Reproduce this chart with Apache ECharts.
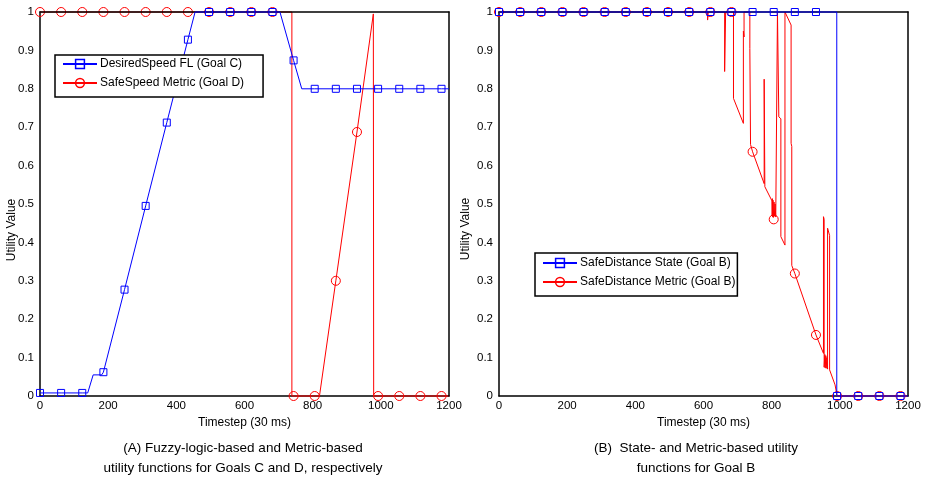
<!DOCTYPE html>
<html>
<head>
<meta charset="utf-8">
<script src="https://cdn.jsdelivr.net/npm/echarts@6/dist/echarts.min.js"></script>
<style>
  html, body { margin: 0; padding: 0; background: #fff; }
  #chart { width: 927px; height: 481px; }
</style>
</head>
<body>
<div id="chart"></div>
<script>
// Timesteps where markers are placed on every curve
const markerX = [0, 62, 124, 186, 248, 310, 372, 434, 496, 558, 620, 682, 744, 806, 868, 930, 992, 1054, 1116, 1178];

// (A) Goal C: fuzzy-logic DesiredSpeed utility
const desiredSpeedLine = [[0, 0.008], [140, 0.008], [156, 0.055], [181, 0.055], [455, 1], [704, 1], [768, 0.8], [1200, 0.8]];
const desiredSpeedMarks = [0.008, 0.008, 0.008, 0.062, 0.277, 0.495, 0.712, 0.928, 1, 1, 1, 1, 0.874, 0.8, 0.8, 0.8, 0.8, 0.8, 0.8, 0.8];

// (A) Goal D: metric SafeSpeed utility
const safeSpeedLine = [[0, 1], [739, 1], [739, 0], [820, 0], [978, 0.995], [979, 0], [1200, 0]];
const safeSpeedMarks = [1, 1, 1, 1, 1, 1, 1, 1, 1, 1, 1, 1, 0, 0, 0.3, 0.6875, 0, 0, 0, 0];

// (B) Goal B: state-based SafeDistance utility
const distStateLine = [[0, 1], [991, 1], [991, 0], [1200, 0]];
const distStateMarks = [1, 1, 1, 1, 1, 1, 1, 1, 1, 1, 1, 1, 1, 1, 1, 1, 0, 0, 0, 0];

// (B) Goal B: metric-based SafeDistance utility
const distMetricLine = [
  [0, 1], [612, 1], [612, 0.979], [614, 1], [662, 1], [662, 0.845], [665, 1],
  [688, 1], [688, 0.775], [717, 0.71], [717, 0.95], [719, 0.935], [719, 1],
  [736, 1], [736, 0.905], [737.5, 0.9], [738, 0.655],
  [778, 0.553], [778, 0.825], [780, 0.82], [780, 0.545], [801, 0.508],
  [801.5, 0.47], [802, 0.514], [803, 0.466], [804, 0.51], [805, 0.465],
  [807, 0.505], [808, 0.468], [810, 0.5], [812, 0.466], [817, 0.467],
  [817, 1], [821, 1], [821, 0.727], [827, 0.722], [827, 0.415], [839, 0.393],
  [839, 1], [841, 1], [857, 0.966], [857, 0.658], [859, 0.65], [859, 0.34],
  [952, 0.111], [952, 0.467], [954, 0.46], [954, 0.075], [956, 0.108],
  [957, 0.073], [959, 0.105], [960, 0.072], [962, 0.1], [964, 0.07],
  [964, 0.437], [970, 0.418], [970, 0.068], [986, 0.029], [1200, 0]
];
const distMetricMarks = [1, 1, 1, 1, 1, 1, 1, 1, 1, 1, 1, 1, 0.636, 0.46, 0.319, 0.159, 0, 0, 0, 0];

const xTicks = { min: 0, max: 1200, interval: 200 };
const yTicks = { min: 0, max: 1, interval: 0.1 };

const BLUE = '#0000ff';
const RED = '#ff0000';
const FONT = "'Liberation Sans', Arial, sans-serif";
const FRAME = { color: '#000', width: 1.5 };

// Merge the polyline vertices (no symbol) with the marker samples (symbol shown)
function buildData(line, marks) {
  const pts = line.map(p => ({ value: p, symbol: 'none' }));
  marks.forEach((v, i) => pts.push({ value: [markerX[i], v] }));
  pts.sort((a, b) => a.value[0] - b.value[0]);
  return pts;
}

function lineSeries(name, line, marks, color, symbol, size, axisIdx, z) {
  return {
    name: name,
    type: 'line',
    xAxisIndex: axisIdx,
    yAxisIndex: axisIdx,
    data: buildData(line, marks),
    symbol: symbol,
    symbolSize: size,
    showSymbol: true,
    showAllSymbol: true,
    z: z,
    lineStyle: { color: color, width: 1 },
    itemStyle: { color: 'rgba(0,0,0,0)', borderColor: color, borderWidth: 1 },
    emphasis: { disabled: true },
    clip: false
  };
}

function mainX(grid) {
  return {
    gridIndex: grid, type: 'value', ...xTicks, position: 'bottom',
    axisLine: { show: true, onZero: false, lineStyle: FRAME },
    axisTick: { show: false }, splitLine: { show: false },
    axisLabel: { color: '#000', fontSize: 11.5, fontFamily: FONT, margin: 4, formatter: v => String(v) },
    name: 'Timestep (30 ms)', nameLocation: 'middle', nameGap: 17,
    nameTextStyle: { color: '#000', fontSize: 12, fontFamily: FONT }
  };
}
function frameX(grid) {
  return {
    gridIndex: grid, type: 'value', ...xTicks, position: 'top', z: 2,
    axisLine: { show: true, onZero: false, lineStyle: FRAME },
    axisTick: { show: false }, axisLabel: { show: false }, splitLine: { show: false }
  };
}
function mainY(grid) {
  return {
    gridIndex: grid, type: 'value', ...yTicks, position: 'left',
    axisLine: { show: true, onZero: false, lineStyle: FRAME },
    axisTick: { show: false }, splitLine: { show: false },
    axisLabel: { color: '#000', fontSize: 11.5, fontFamily: FONT, margin: 6 }
  };
}
function frameY(grid) {
  return {
    gridIndex: grid, type: 'value', ...yTicks, position: 'right', z: 2,
    axisLine: { show: true, onZero: false, lineStyle: FRAME },
    axisTick: { show: false }, axisLabel: { show: false }, splitLine: { show: false }
  };
}

const names = {
  fl: 'DesiredSpeed FL (Goal C)',
  sm: 'SafeSpeed Metric (Goal D)',
  ds: 'SafeDistance State (Goal B)',
  dm: 'SafeDistance Metric (Goal B)'
};

function legend(data, left, top, padding) {
  return {
    data: data, orient: 'vertical', left: left, top: top,
    backgroundColor: '#fff', borderColor: '#000', borderWidth: 1.5,
    padding: padding, itemWidth: 34, itemHeight: 11, itemGap: 7,
    textStyle: { color: '#000', fontSize: 12, fontFamily: FONT, padding: [0, 0, 0, -2] },
    lineStyle: { width: 2 },
    itemStyle: { borderWidth: 1.5 }
  };
}

const chart = echarts.init(document.getElementById('chart'), null, { renderer: 'canvas' });
chart.setOption({
  animation: false,
  backgroundColor: '#fff',
  textStyle: { fontFamily: FONT },
  grid: [
    { left: 40, top: 12, width: 409, height: 384 },
    { left: 499, top: 12, width: 409, height: 384 }
  ],
  xAxis: [mainX(0), frameX(0), mainX(1), frameX(1)],
  yAxis: [mainY(0), frameY(0), mainY(1), frameY(1)],
  legend: [
    legend([names.fl, names.sm], 55, 55, [3, 19, 8, 7]),
    legend([names.ds, names.dm], 535, 253, [4, 2, 8, 7])
  ],
  title: [
    {
      text: '(A) Fuzzy-logic-based and Metric-based\nutility functions for Goals C and D, respectively',
      left: 238, top: 433, textAlign: 'center',
      textStyle: { color: '#000', fontSize: 13.5, fontWeight: 'normal', lineHeight: 20, fontFamily: FONT }
    },
    {
      text: '(B)  State- and Metric-based utility\nfunctions for Goal B',
      left: 691, top: 433, textAlign: 'center',
      textStyle: { color: '#000', fontSize: 13.5, fontWeight: 'normal', lineHeight: 20, fontFamily: FONT }
    }
  ],
  graphic: [
    { type: 'text', x: 12, y: 230, rotation: Math.PI / 2,
      style: { text: 'Utility Value', fill: '#000', font: '12px ' + FONT, align: 'center', verticalAlign: 'middle' } },
    { type: 'text', x: 466, y: 229, rotation: Math.PI / 2,
      style: { text: 'Utility Value', fill: '#000', font: '12px ' + FONT, align: 'center', verticalAlign: 'middle' } }
  ],
  series: [
    lineSeries(names.sm, safeSpeedLine, safeSpeedMarks, RED, 'circle', 9, 0, 1),
    lineSeries(names.fl, desiredSpeedLine, desiredSpeedMarks, BLUE, 'rect', 7, 0, 3),
    lineSeries(names.dm, distMetricLine, distMetricMarks, RED, 'circle', 9, 2, 1),
    lineSeries(names.ds, distStateLine, distStateMarks, BLUE, 'rect', 7, 2, 3)
  ]
});
</script>
</body>
</html>
